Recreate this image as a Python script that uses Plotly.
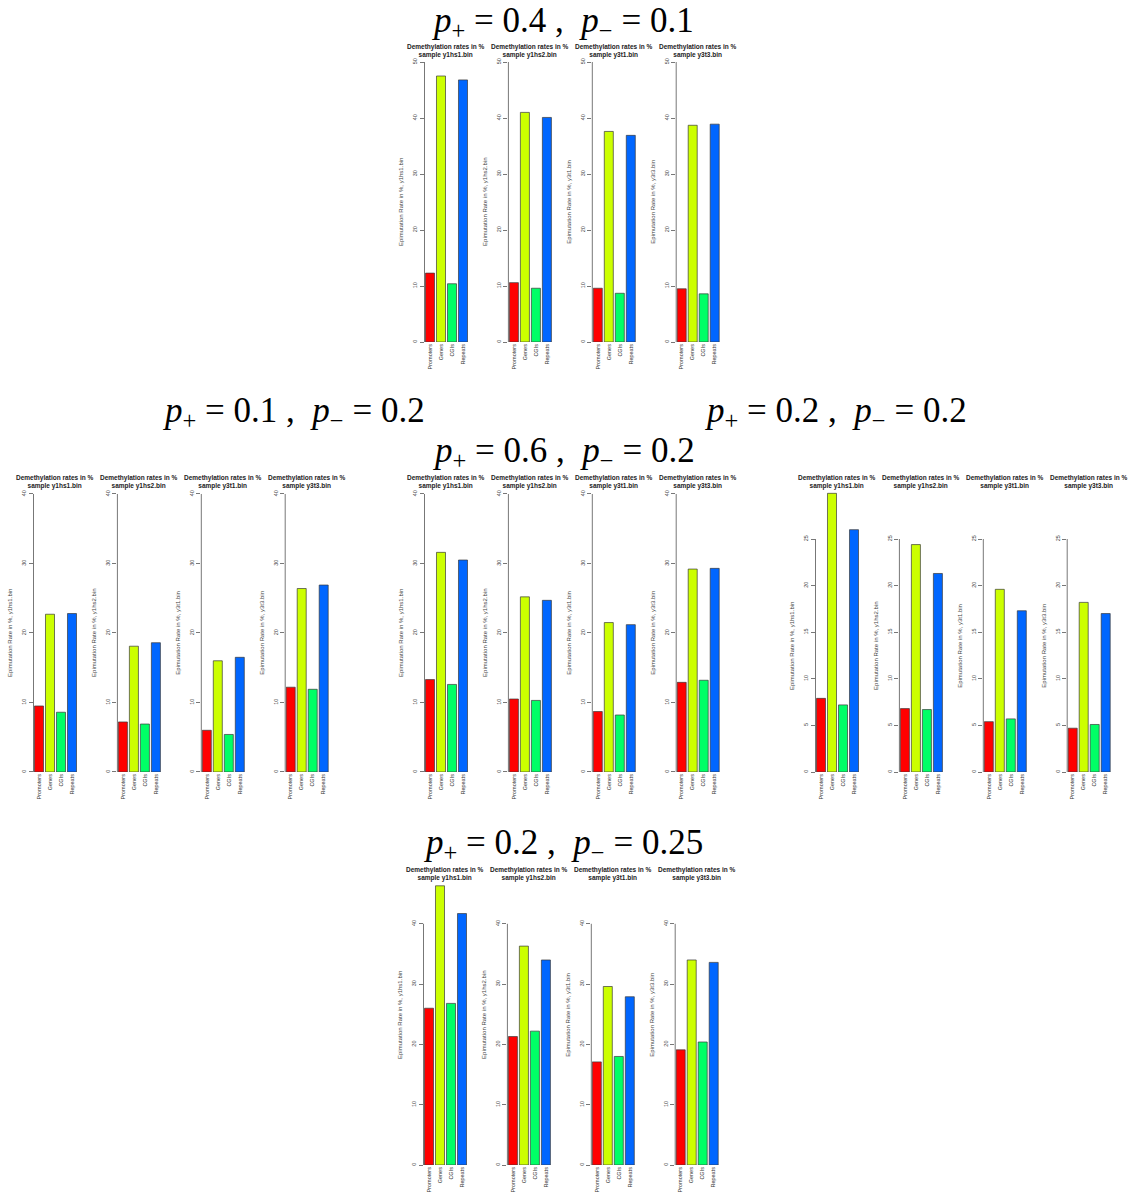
import plotly.graph_objects as go

# ---------------- data ----------------
categories = ["Promoters", "Genes", "CGIs", "Repeats"]
samples = ["y1hs1.bin", "y1hs2.bin", "y3t1.bin", "y3t3.bin"]
bar_colors = ["#FF0000", "#CCFF00", "#00FF66", "#0066FF"]

# p+ = 0.4 , p- = 0.1   (values per sample: y1hs1, y1hs2, y3t1, y3t3)
a_promoters = [12.3, 10.6, 9.6, 9.5]
a_genes = [47.5, 41.0, 37.6, 38.7]
a_cgis = [10.4, 9.6, 8.7, 8.6]
a_repeats = [46.8, 40.1, 36.9, 38.9]
a_ticks = [0, 10, 20, 30, 40, 50]

# p+ = 0.1 , p- = 0.2
b_promoters = [9.5, 7.2, 6.0, 12.2]
b_genes = [22.7, 18.1, 16.0, 26.4]
b_cgis = [8.6, 6.9, 5.4, 11.9]
b_repeats = [22.8, 18.6, 16.5, 26.9]
b_ticks = [0, 10, 20, 30, 40]

# p+ = 0.6 , p- = 0.2
c_promoters = [13.3, 10.5, 8.7, 12.9]
c_genes = [31.6, 25.2, 21.5, 29.2]
c_cgis = [12.6, 10.3, 8.2, 13.2]
c_repeats = [30.5, 24.7, 21.2, 29.3]
c_ticks = [0, 10, 20, 30, 40]

# p+ = 0.2 , p- = 0.2
d_promoters = [7.9, 6.8, 5.4, 4.7]
d_genes = [29.9, 24.4, 19.6, 18.2]
d_cgis = [7.2, 6.7, 5.7, 5.1]
d_repeats = [26.0, 21.3, 17.3, 17.0]
d_ticks = [0, 5, 10, 15, 20, 25]

# p+ = 0.2 , p- = 0.25
e_promoters = [26.0, 21.3, 17.1, 19.1]
e_genes = [46.3, 36.3, 29.6, 34.0]
e_cgis = [26.8, 22.2, 18.0, 20.4]
e_repeats = [41.7, 34.0, 27.9, 33.6]
e_ticks = [0, 10, 20, 30, 40]

group_titles = [
    ("0.4", "0.1"),
    ("0.1", "0.2"),
    ("0.6", "0.2"),
    ("0.2", "0.2"),
    ("0.2", "0.25"),
]

# ---------------- layout helpers (pixels) ----------------
W, H = 1130, 1198
NBSP = "\u00a0"


def px_x(p):
    return p / W


def px_y(p):
    return 1 - p / H


groups = [
    dict(vals=[a_promoters, a_genes, a_cgis, a_repeats], ticks=a_ticks, title=group_titles[0],
         tx=562, ty=22, ax0=423, y0=342, scale=5.6, ymax=52, pty=51, ylab_y=202),
    dict(vals=[b_promoters, b_genes, b_cgis, b_repeats], ticks=b_ticks, title=group_titles[1],
         tx=293, ty=413, ax0=32, y0=772, scale=6.95, ymax=40.5, pty=482, ylab_y=633),
    dict(vals=[c_promoters, c_genes, c_cgis, c_repeats], ticks=c_ticks, title=group_titles[2],
         tx=563, ty=452, ax0=423, y0=772, scale=6.95, ymax=40.5, pty=482, ylab_y=633),
    dict(vals=[d_promoters, d_genes, d_cgis, d_repeats], ticks=d_ticks, title=group_titles[3],
         tx=835, ty=413, ax0=814, y0=772, scale=9.32, ymax=30.5, pty=482, ylab_y=646),
    dict(vals=[e_promoters, e_genes, e_cgis, e_repeats], ticks=e_ticks, title=group_titles[4],
         tx=563, ty=844, ax0=422, y0=1165, scale=6.03, ymax=47, pty=874, ylab_y=1015),
]

PITCH = 83.9
SANS = "Liberation Sans, Arial, sans-serif"
SERIF = "Liberation Serif, Times New Roman, serif"

fig = go.Figure()
layout = dict(
    width=W, height=H,
    margin=dict(l=0, r=0, t=0, b=0),
    paper_bgcolor="white", plot_bgcolor="white",
    showlegend=False, bargap=0.18,
)
shapes = []
annotations = []

n = 0
for g in groups:
    # big group title
    plus, minus = g["title"]
    annotations.append(dict(
        text=f"<i>p</i><sub>+</sub> = {plus}{NBSP},{NBSP}{NBSP}<i>p</i><sub>\u2212</sub> = {minus}",
        x=px_x(g["tx"]), y=px_y(g["ty"]), xref="paper", yref="paper",
        xanchor="center", yanchor="middle", showarrow=False,
        font=dict(family=SERIF, size=35, color="black"),
    ))
    for s in range(4):
        n += 1
        xa = "x" if n == 1 else f"x{n}"
        ya = "y" if n == 1 else f"y{n}"
        xkey = "xaxis" if n == 1 else f"xaxis{n}"
        ykey = "yaxis" if n == 1 else f"yaxis{n}"
        values = [g["vals"][c][s] for c in range(4)]
        fig.add_trace(go.Bar(
            x=categories, y=values, xaxis=xa, yaxis=ya,
            marker=dict(color=bar_colors, line=dict(color="#3a3a3a", width=0.7)),
            showlegend=False, hoverinfo="x+y",
        ))
        axis_px = g["ax0"] + s * PITCH
        x_dom = [px_x(axis_px + 1.5), px_x(axis_px + 45.5)]
        top_px = g["y0"] - g["ymax"] * g["scale"]
        y_dom = [px_y(g["y0"]), px_y(top_px)]
        layout[xkey] = dict(
            domain=x_dom, anchor=ya, range=[-0.5, 3.5], type="category",
            showgrid=False, zeroline=False, showline=False, ticks="",
            tickangle=-90, tickfont=dict(family=SANS, size=5.5, color="#333"),
            fixedrange=True,
        )
        layout[ykey] = dict(
            domain=y_dom, anchor=xa, range=[0, g["ymax"]],
            tickvals=g["ticks"], ticktext=[str(t) for t in g["ticks"]],
            showgrid=False, zeroline=False, showline=False,
            ticks="outside", ticklen=4, tickwidth=0.8, tickcolor="#777",
            tickangle=-90, tickfont=dict(family=SANS, size=5.5, color="#444"),
            fixedrange=True,
        )
        # axis line from first to last tick (R style)
        shapes.append(dict(
            type="line", xref="paper", yref=ya,
            x0=px_x(axis_px + 1.5), x1=px_x(axis_px + 1.5),
            y0=g["ticks"][0], y1=g["ticks"][-1],
            line=dict(color="#777", width=1),
        ))
        # panel title
        annotations.append(dict(
            text=f"Demethylation rates in %<br>sample {samples[s]}",
            x=px_x(axis_px + 23), y=px_y(g["pty"]), xref="paper", yref="paper",
            xanchor="center", yanchor="middle", showarrow=False,
            font=dict(family=SANS, size=6.5, color="#222", weight="bold"),
        ))
        # y-axis title
        annotations.append(dict(
            text=f"Epimutation Rate in %, {samples[s]}",
            x=px_x(axis_px - 22), y=px_y(g["ylab_y"]), xref="paper", yref="paper",
            xanchor="center", yanchor="middle", showarrow=False, textangle=-90,
            font=dict(family=SANS, size=6, color="#444"),
        ))

layout["shapes"] = shapes
layout["annotations"] = annotations
fig.update_layout(**layout)
fig.write_html("out.html")
